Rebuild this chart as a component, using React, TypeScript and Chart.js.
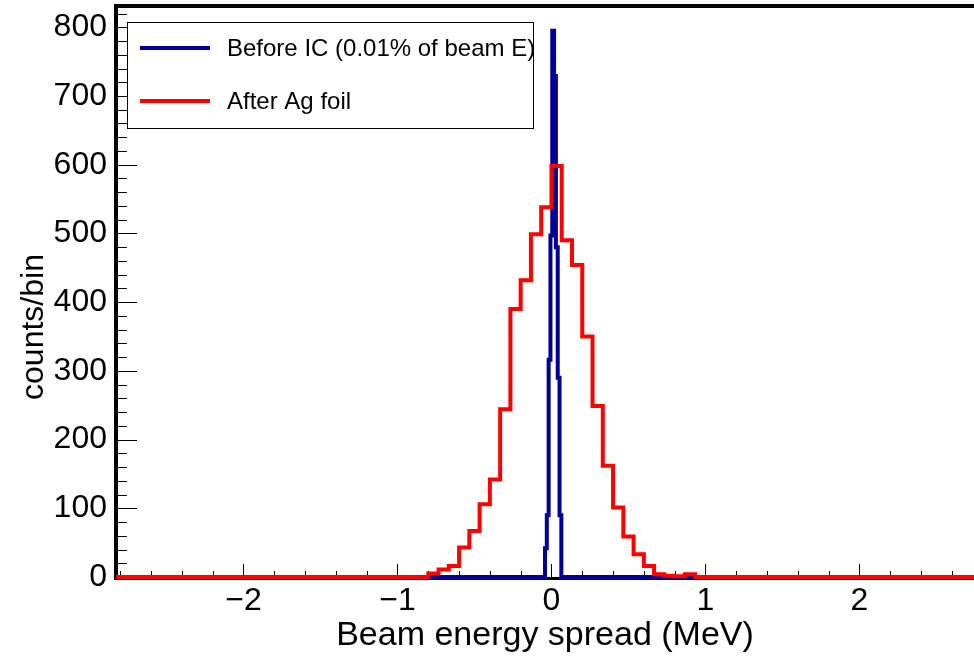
import React, { useEffect, useRef } from 'react';
import { Chart, registerables } from 'chart.js';

Chart.register(...registerables);

// ---- axis ranges and tick labels ----
const X_MIN = -2.828;
const X_MAX = 2.744;
const Y_MIN = 0;
const Y_MAX = 831;
const xTickValues = [-2, -1, 0, 1, 2];
const yTickValues = [0, 100, 200, 300, 400, 500, 600, 700, 800];
const xMinorStep = 0.2;
const yMinorStep = 20;

const xTitle = 'Beam energy spread (MeV)';
const yTitle = 'counts/bin';
const legendLabels = ['Before IC (0.01% of beam E)', 'After Ag foil'];

// ---- histogram "After Ag foil" (red) ----
const redBinStart = -0.8;
const redBinWidth = 1 / 15;
const redCounts = [5, 11, 16, 43, 67, 106, 142, 244, 390, 432, 499, 538, 598, 490, 454, 350, 249, 162, 101, 59, 33, 16, 4, 2, 1, 4];

// ---- histogram "Before IC" (blue) ----
const blueBinStart = -0.042;
const blueBinWidth = 0.0118;
const blueCounts = [42, 90, 316, 497, 795, 729, 480, 290, 90];

const BLUE = '#000099';
const RED = '#ff0000';
const FONT = '"Liberation Sans", Arial, Helvetica, sans-serif';

function histPoints(start: number, width: number, counts: number[]) {
  const pts: { x: number; y: number }[] = [{ x: X_MIN, y: 0 }];
  counts.forEach((c, i) => pts.push({ x: start + i * width, y: c }));
  pts.push({ x: start + counts.length * width, y: 0 });
  pts.push({ x: X_MAX, y: 0 });
  return pts;
}

// histogram outline: horizontal at each bin's level, vertical at bin edges
function stepPoints(start: number, width: number, counts: number[]) {
  const raw = histPoints(start, width, counts);
  const out: { x: number; y: number }[] = [raw[0]];
  for (let i = 1; i < raw.length; i++) {
    out.push({ x: raw[i].x, y: raw[i - 1].y });
    out.push({ x: raw[i].x, y: raw[i].y });
  }
  return out;
}

const framePlugin = {
  id: 'rootFrame',
  beforeDatasetsDraw(chart: any) {
    const { ctx, chartArea: ca, scales } = chart;
    const x = scales.x;
    const y = scales.y;
    ctx.save();
    ctx.strokeStyle = '#000';
    ctx.lineWidth = 1;
    ctx.beginPath();
    for (let k = Math.ceil(X_MIN / xMinorStep); k * xMinorStep <= X_MAX; k++) {
      const v = k * xMinorStep;
      const major = Math.abs(v - Math.round(v)) < 1e-6;
      const px = Math.round(x.getPixelForValue(v)) + 0.5;
      ctx.moveTo(px, ca.bottom);
      ctx.lineTo(px, ca.bottom - (major ? 13 : 6));
    }
    for (let k = 0; k * yMinorStep <= Y_MAX; k++) {
      const v = k * yMinorStep;
      const major = v % 100 === 0;
      const py = Math.round(y.getPixelForValue(v)) + 0.5;
      ctx.moveTo(ca.left, py);
      ctx.lineTo(ca.left + (major ? 21 : 11), py);
    }
    ctx.stroke();
    ctx.fillStyle = '#000';
    ctx.fillRect(ca.left - 2, ca.top - 2, ca.right - ca.left + 2, 4);
    ctx.fillRect(ca.left - 2, ca.top - 2, 4, ca.bottom - ca.top + 5);
    ctx.fillRect(ca.left - 2, ca.bottom, ca.right - ca.left + 2, 3);

    // y axis title
    ctx.fillStyle = '#000';
    ctx.font = `32px ${FONT}`;
    ctx.textAlign = 'center';
    ctx.textBaseline = 'alphabetic';
    ctx.translate(43, 327);
    ctx.rotate(-Math.PI / 2);
    ctx.fillText(yTitle, 0, 0);
    ctx.restore();
  },
  afterDatasetsDraw(chart: any) {
    const { ctx } = chart;
    ctx.save();
    const bx = 127, by = 22, bw = 406, bh = 106;
    ctx.fillStyle = '#fff';
    ctx.fillRect(bx, by, bw, bh);
    ctx.strokeStyle = '#000';
    ctx.lineWidth = 1;
    ctx.strokeRect(bx + 0.5, by + 0.5, bw, bh);
    const colors = [BLUE, RED];
    const rows = [48, 101];
    rows.forEach((ry, i) => {
      ctx.strokeStyle = colors[i];
      ctx.lineWidth = 4;
      ctx.beginPath();
      ctx.moveTo(140, ry);
      ctx.lineTo(210, ry);
      ctx.stroke();
    });
    ctx.beginPath();
    ctx.rect(bx + 1, by + 1, bw - 1, bh - 1);
    ctx.clip();
    ctx.fillStyle = '#000';
    ctx.font = `24px ${FONT}`;
    ctx.textAlign = 'left';
    ctx.textBaseline = 'alphabetic';
    ctx.fillText(legendLabels[0], 227, 56);
    ctx.fillText(legendLabels[1], 227, 109);
    ctx.restore();
  },
};

export default function App() {
  const canvasRef = useRef<HTMLCanvasElement | null>(null);

  useEffect(() => {
    const canvas = canvasRef.current;
    if (!canvas) return;
    const common = {
      borderWidth: 4,
      pointRadius: 0,
      fill: false,
      clip: false as any,
      borderJoinStyle: 'miter' as const,
      borderCapStyle: 'butt' as const,
      tension: 0,
    };
    const chart = new Chart(canvas, {
      type: 'line',
      data: {
        datasets: [
          {
            ...common,
            label: legendLabels[0],
            data: stepPoints(blueBinStart, blueBinWidth, blueCounts),
            borderColor: BLUE,
            order: 1,
          },
          {
            ...common,
            label: legendLabels[1],
            data: stepPoints(redBinStart, redBinWidth, redCounts),
            borderColor: RED,
            order: 0,
          },
        ],
      },
      options: {
        responsive: false,
        animation: false,
        devicePixelRatio: 1,
        layout: { padding: { top: 6, left: 0, right: 0, bottom: 0 } },
        plugins: { legend: { display: false }, tooltip: { enabled: false } },
        scales: {
          x: {
            type: 'linear',
            min: X_MIN,
            max: X_MAX,
            grid: { display: false, drawTicks: false },
            border: { display: false },
            afterBuildTicks: (s: any) => {
              s.ticks = xTickValues.map((v) => ({ value: v }));
            },
            afterFit: (s: any) => {
              s.height = 82;
              s.paddingLeft = 0;
              s.paddingRight = 0;
            },
            ticks: {
              autoSkip: false,
              maxRotation: 0,
              minRotation: 0,
              padding: 5,
              color: '#000',
              font: { family: FONT, size: 32 },
              callback: (v: any) => (Number(v) < 0 ? '\u2212' + Math.abs(Number(v)) : String(v)),
            },
            title: {
              display: true,
              text: xTitle,
              color: '#000',
              font: { family: FONT, size: 34 },
              padding: { top: 0, bottom: 3 },
            },
          },
          y: {
            type: 'linear',
            min: Y_MIN,
            max: Y_MAX,
            grid: { display: false, drawTicks: false },
            border: { display: false },
            afterBuildTicks: (s: any) => {
              s.ticks = yTickValues.map((v) => ({ value: v }));
            },
            afterFit: (s: any) => {
              s.width = 116;
              s.paddingTop = 0;
              s.paddingBottom = 0;
            },
            ticks: {
              autoSkip: false,
              padding: 9,
              color: '#000',
              font: { family: FONT, size: 32 },
              callback: (v: any) => String(v),
            },
          },
        },
      },
      plugins: [framePlugin],
    });
    return () => chart.destroy();
  }, []);

  return (
    <div style={{ position: 'fixed', left: 0, top: 0, width: 974, height: 659, background: '#fff', overflow: 'hidden' }}>
      <canvas ref={canvasRef} width={974} height={659} style={{ display: 'block' }} />
    </div>
  );
}
